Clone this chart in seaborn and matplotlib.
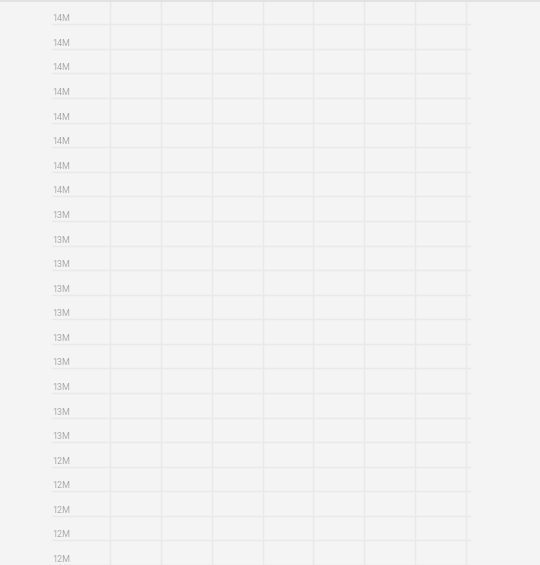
import seaborn as sns
import matplotlib.pyplot as plt
import matplotlib.transforms as mtransforms

# y ticks (millions), top to bottom, shown rounded to whole millions
tick_values = [14.2, 14.1, 14.0, 13.9, 13.8, 13.7, 13.6, 13.5, 13.4, 13.3, 13.2, 13.1,
               13.0, 12.9, 12.8, 12.7, 12.6, 12.5, 12.4, 12.3, 12.2, 12.1, 12.0]
tick_labels = ["14M"] * 8 + ["13M"] * 10 + ["12M"] * 5
columns = list(range(8))

sns.set_theme(style="whitegrid")
plt.rcParams["font.family"] = ["Roboto", "DejaVu Sans"]

fig = plt.figure(figsize=(5.4, 5.65), dpi=100)
fig.patch.set_facecolor("#f4f4f4")
ax = fig.add_axes([52 / 540, 0, (471 - 52) / 540, 1])
ax.set_facecolor("#f4f4f4")

ax.set_ylim(12.008, 14.299)
ax.set_xlim(-1.14, 7.098)
ax.set_yticks(tick_values)
ax.set_xticks(columns)
ax.tick_params(left=False, bottom=False, labelleft=False, labelbottom=False)
ax.grid(True, color="#e9e9e9", linewidth=1)
for s in ax.spines.values():
    s.set_visible(False)

# labels sit inside the plot, just above their gridline
offset = mtransforms.offset_copy(ax.get_yaxis_transform(), fig=fig, x=0.5, y=1, units="dots")
for v, lab in zip(tick_values, tick_labels):
    ax.text(0, v, lab, transform=offset, ha="left", va="bottom",
            fontsize=6.5, color="#ababab")

# top border line
fig.add_artist(plt.Line2D([0, 1], [0.999, 0.999], color="#e2e2e2", lw=1.5, transform=fig.transFigure))

plt.savefig("out.png", dpi=100, facecolor=fig.get_facecolor())
